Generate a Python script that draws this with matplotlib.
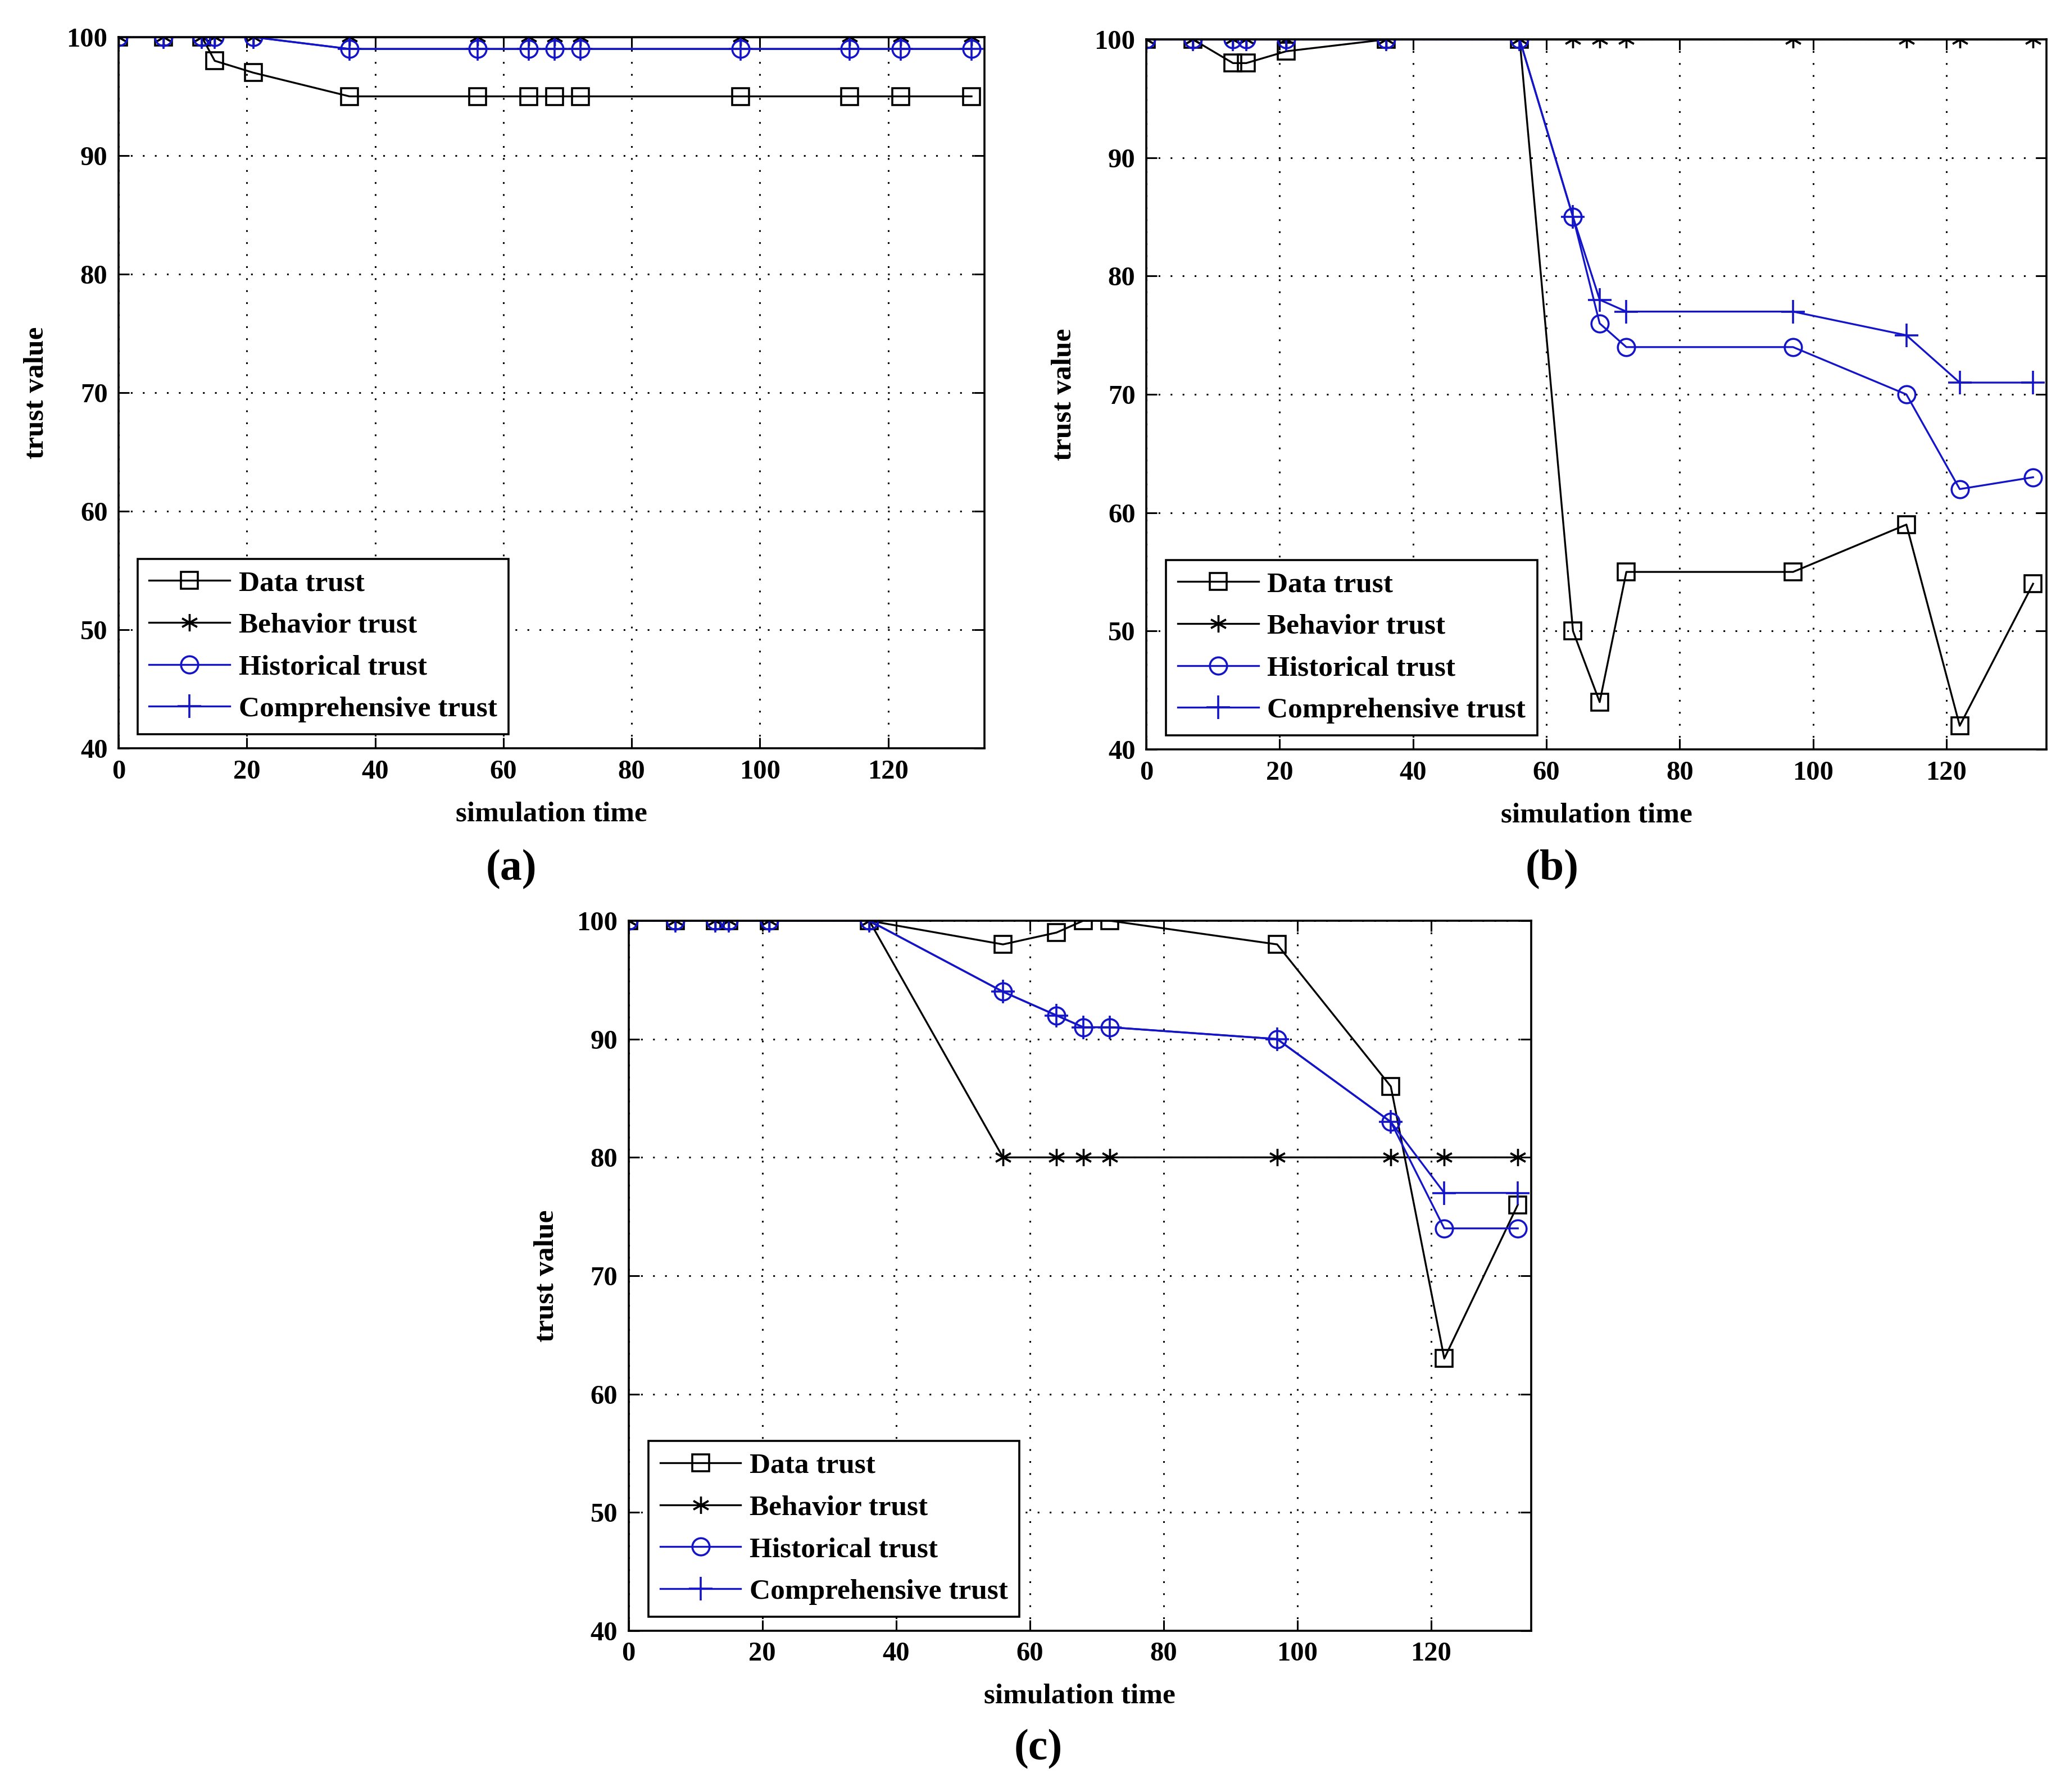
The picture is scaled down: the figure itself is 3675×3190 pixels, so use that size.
import numpy as np
import matplotlib
matplotlib.use('Agg')
import matplotlib.pyplot as plt

plt.rcParams['font.family'] = ['Liberation Serif', 'DejaVu Serif']

# simulation time points shared by all three panels
sim_time = [0, 7, 13, 15, 21, 36, 56, 64, 68, 72, 97, 114, 122, 133]

# (a)
data_a = [100, 100, 100, 98, 97, 95, 95, 95, 95, 95, 95, 95, 95, 95]
behav_a = [100] * 14
hist_a = [100, 100, 100, 100, 100, 99, 99, 99, 99, 99, 99, 99, 99, 99]
comp_a = [100, 100, 100, 100, 100, 99, 99, 99, 99, 99, 99, 99, 99, 99]

# (b)
data_b = [100, 100, 98, 98, 99, 100, 100, 50, 44, 55, 55, 59, 42, 54]
behav_b = [100] * 14
hist_b = [100, 100, 100, 100, 100, 100, 100, 85, 76, 74, 74, 70, 62, 63]
comp_b = [100, 100, 100, 100, 100, 100, 100, 85, 78, 77, 77, 75, 71, 71]

# (c)
data_c = [100, 100, 100, 100, 100, 100, 98, 99, 100, 100, 98, 86, 63, 76]
behav_c = [100, 100, 100, 100, 100, 100, 80, 80, 80, 80, 80, 80, 80, 80]
hist_c = [100, 100, 100, 100, 100, 100, 94, 92, 91, 91, 90, 83, 74, 74]
comp_c = [100, 100, 100, 100, 100, 100, 94, 92, 91, 91, 90, 83, 77, 77]

labels = ['Data trust', 'Behavior trust', 'Historical trust', 'Comprehensive trust']
blue = '#1414c8'

fig = plt.figure(figsize=(36.75, 31.9), dpi=100)

# axes rectangles [left, bottom, width, height] in figure fraction
rects = {
    'a': [0.0574, 0.5824, 0.4193, 0.3969],
    'b': [0.5551, 0.5818, 0.4359, 0.3962],
    'c': [0.3044, 0.0900, 0.4371, 0.3962],
}
series = {
    'a': (data_a, behav_a, hist_a, comp_a),
    'b': (data_b, behav_b, hist_b, comp_b),
    'c': (data_c, behav_c, hist_c, comp_c),
}
tags = {'a': (0.2476, 0.5147), 'b': (0.7517, 0.5147), 'c': (0.5028, 0.0238)}

lw = 2.4
ms = 22
for key in ['a', 'b', 'c']:
    ax = fig.add_axes(rects[key])
    d, b, h, c = series[key]
    ax.plot(sim_time, d, color='black', lw=lw, marker='s', ms=ms,
            mfc='none', mec='black', mew=2.6, label=labels[0])
    ax.plot(sim_time, b, color='black', lw=lw, marker=(6, 2, 0), ms=ms,
            mec='black', mew=2.4, label=labels[1])
    ax.plot(sim_time, h, color=blue, lw=lw, marker='o', ms=ms,
            mfc='none', mec=blue, mew=2.6, label=labels[2])
    ax.plot(sim_time, c, color=blue, lw=lw, marker='+', ms=ms * 1.4,
            mec=blue, mew=2.6, label=labels[3])

    ax.set_xlim(0, 135)
    ax.set_ylim(40, 100)
    ax.set_xticks(range(0, 121, 20))
    ax.set_yticks(range(40, 101, 10))
    ax.grid(True, color='black', linestyle=(0, (1, 6)), linewidth=2.2)
    ax.tick_params(direction='in', length=14, width=2.2, top=True, right=True,
                   labelsize=35, pad=14)
    for lab in ax.get_xticklabels() + ax.get_yticklabels():
        lab.set_fontweight('bold')
    for sp in ax.spines.values():
        sp.set_linewidth(2.6)
    ax.set_xlabel('simulation time', fontsize=37, fontweight='bold', labelpad=22)
    ax.set_ylabel('trust value', fontsize=37, fontweight='bold', labelpad=22)

    leg = ax.legend(loc='lower left', bbox_to_anchor=(0.022, 0.02),
                    borderaxespad=0, handlelength=2.8,
                    prop={'size': 37, 'weight': 'bold'},
                    labelspacing=0.54, fancybox=False, framealpha=1,
                    edgecolor='black', borderpad=0.4, handletextpad=0.3)
    leg.get_frame().set_linewidth(2.6)

    fig.text(tags[key][0], tags[key][1], '(' + key + ')', fontsize=56,
             fontweight='bold', ha='center', va='center')

fig.savefig('out.png', dpi=100, facecolor='white')
